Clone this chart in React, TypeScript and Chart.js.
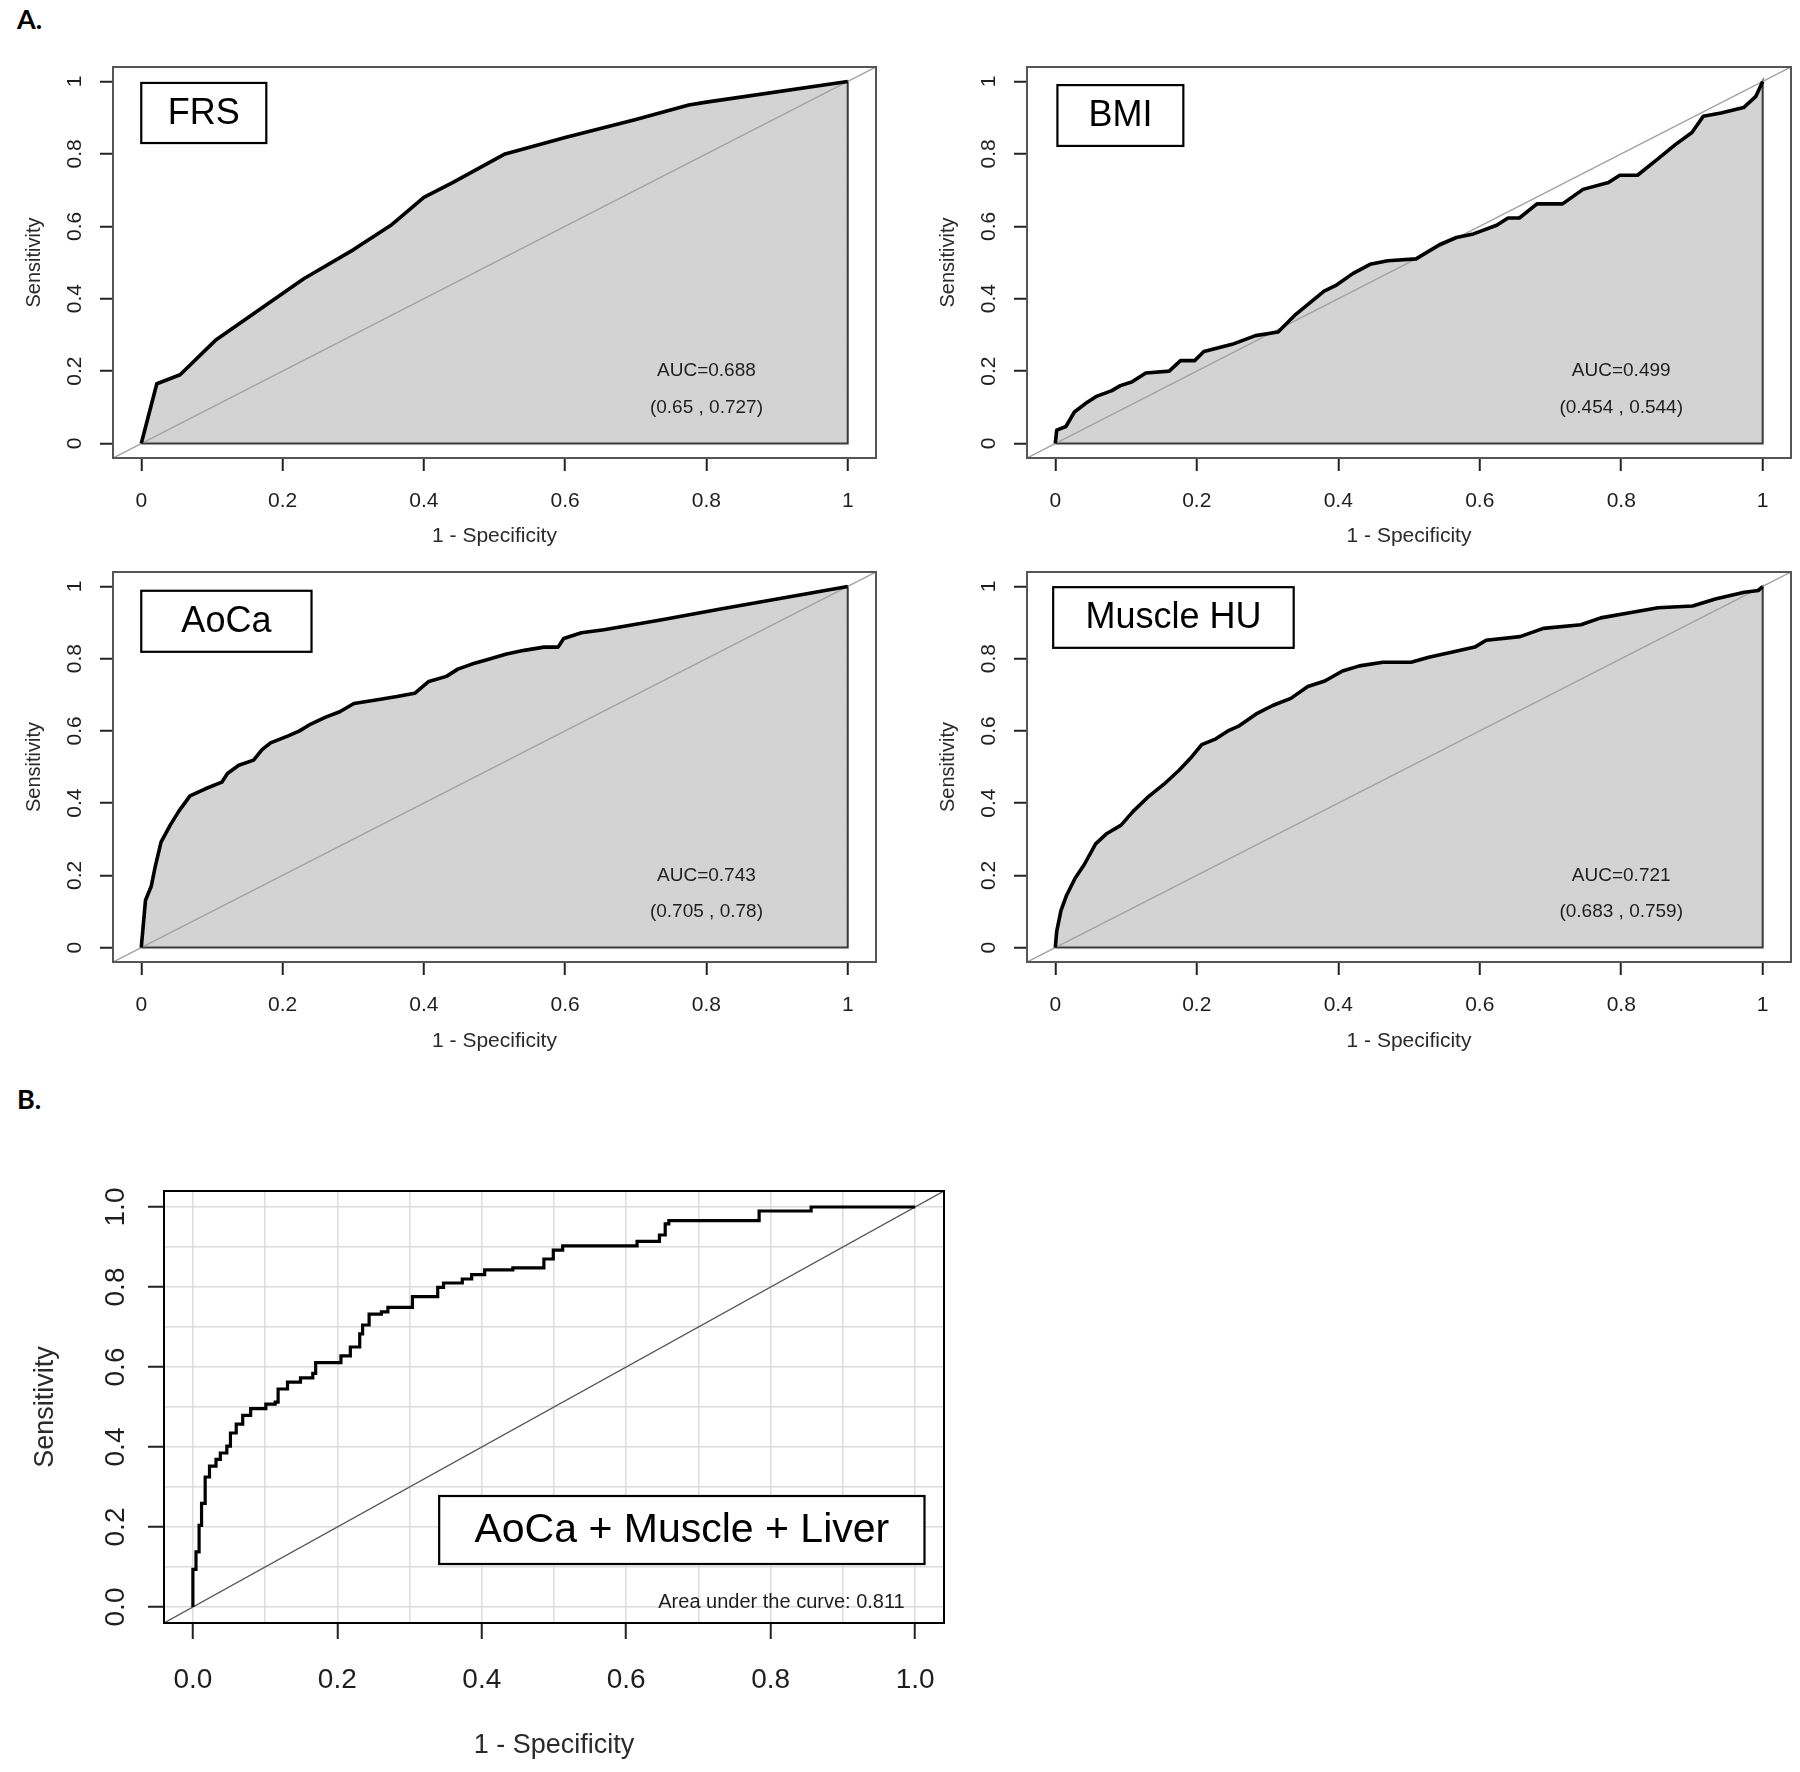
import React, { useEffect, useRef } from 'react';
import { Chart, registerables } from 'chart.js';

Chart.register(...registerables);

const FONT = '"Liberation Sans", Arial, Helvetica, sans-serif';

// ---------- data ----------
const frsX = [0, 0.022, 0.055, 0.105, 0.23, 0.3, 0.355, 0.4, 0.44, 0.515, 0.6, 0.7, 0.775, 0.8, 1];
const frsY = [0, 0.165, 0.19, 0.285, 0.455, 0.535, 0.605, 0.68, 0.72, 0.8, 0.845, 0.895, 0.935, 0.943, 1];

const bmiX = [0, 0.002, 0.015, 0.027, 0.043, 0.059, 0.08, 0.092, 0.108, 0.128, 0.161, 0.177, 0.197, 0.21, 0.25, 0.283, 0.315, 0.34, 0.38, 0.396, 0.421, 0.445, 0.47, 0.51, 0.543, 0.567, 0.591, 0.624, 0.64, 0.656, 0.681, 0.717, 0.746, 0.782, 0.798, 0.823, 0.851, 0.876, 0.9, 0.916, 0.941, 0.973, 0.99, 1];
const bmiY = [0, 0.037, 0.047, 0.087, 0.111, 0.131, 0.146, 0.16, 0.17, 0.195, 0.2, 0.229, 0.229, 0.254, 0.274, 0.298, 0.308, 0.357, 0.421, 0.436, 0.47, 0.495, 0.505, 0.51, 0.549, 0.569, 0.579, 0.603, 0.623, 0.623, 0.662, 0.662, 0.702, 0.721, 0.741, 0.741, 0.785, 0.825, 0.859, 0.904, 0.913, 0.928, 0.958, 1];

const aocaX = [0, 0.006, 0.014, 0.02, 0.028, 0.041, 0.053, 0.069, 0.09, 0.114, 0.122, 0.138, 0.159, 0.171, 0.183, 0.208, 0.224, 0.24, 0.261, 0.281, 0.301, 0.33, 0.362, 0.387, 0.407, 0.432, 0.448, 0.468, 0.493, 0.517, 0.542, 0.57, 0.59, 0.598, 0.623, 0.655, 0.737, 0.818, 0.9, 1];
const aocaY = [0, 0.131, 0.169, 0.226, 0.292, 0.339, 0.377, 0.42, 0.439, 0.458, 0.482, 0.505, 0.519, 0.548, 0.567, 0.586, 0.6, 0.619, 0.638, 0.653, 0.676, 0.685, 0.695, 0.704, 0.737, 0.751, 0.771, 0.785, 0.799, 0.813, 0.823, 0.832, 0.832, 0.856, 0.872, 0.88, 0.908, 0.937, 0.965, 1];

const muscleX = [0, 0.002, 0.008, 0.016, 0.028, 0.041, 0.057, 0.073, 0.093, 0.11, 0.13, 0.154, 0.175, 0.191, 0.207, 0.227, 0.244, 0.26, 0.284, 0.308, 0.333, 0.357, 0.381, 0.406, 0.43, 0.463, 0.503, 0.528, 0.56, 0.593, 0.609, 0.657, 0.69, 0.743, 0.771, 0.812, 0.852, 0.901, 0.933, 0.974, 0.994, 1];
const muscleY = [0, 0.045, 0.102, 0.145, 0.192, 0.23, 0.287, 0.316, 0.339, 0.377, 0.415, 0.453, 0.491, 0.524, 0.562, 0.578, 0.6, 0.614, 0.647, 0.671, 0.69, 0.723, 0.738, 0.766, 0.78, 0.79, 0.79, 0.804, 0.818, 0.832, 0.851, 0.861, 0.884, 0.894, 0.913, 0.927, 0.941, 0.946, 0.965, 0.984, 0.989, 1];

const comboX = [0, 0, 0.0043, 0.0086, 0.012, 0.017, 0.023, 0.032, 0.038, 0.047, 0.052, 0.06, 0.069, 0.08, 0.097, 0.101, 0.114, 0.118, 0.131, 0.149, 0.166, 0.17, 0.196, 0.205, 0.218, 0.231, 0.235, 0.244, 0.261, 0.27, 0.3, 0.304, 0.33, 0.339, 0.347, 0.365, 0.373, 0.386, 0.404, 0.443, 0.477, 0.486, 0.499, 0.512, 0.607, 0.615, 0.641, 0.646, 0.654, 0.659, 0.78, 0.784, 0.853, 0.856, 1];
const comboY = [0, 0.094, 0.138, 0.204, 0.259, 0.325, 0.352, 0.369, 0.385, 0.402, 0.435, 0.457, 0.479, 0.496, 0.496, 0.507, 0.512, 0.545, 0.562, 0.573, 0.584, 0.611, 0.611, 0.628, 0.65, 0.683, 0.705, 0.732, 0.738, 0.749, 0.749, 0.776, 0.776, 0.799, 0.81, 0.81, 0.82, 0.831, 0.843, 0.848, 0.848, 0.87, 0.892, 0.903, 0.903, 0.914, 0.914, 0.93, 0.958, 0.966, 0.966, 0.99, 0.99, 1, 1];

const tickValuesA = [0, 0.2, 0.4, 0.6, 0.8, 1];
const tickLabelsA = ['0', '0.2', '0.4', '0.6', '0.8', '1'];
const tickValuesB = [0, 0.1, 0.2, 0.3, 0.4, 0.5, 0.6, 0.7, 0.8, 0.9, 1];
const tickLabelsB = ['0.0', '', '0.2', '', '0.4', '', '0.6', '', '0.8', '', '1.0'];

const aucLabels = ['AUC=0.688', 'AUC=0.499', 'AUC=0.743', 'AUC=0.721'];
const ciLabels = ['(0.65 , 0.727)', '(0.454 , 0.544)', '(0.705 , 0.78)', '(0.683 , 0.759)'];
const comboAuc = 'Area under the curve: 0.811';

// ---------- layout ----------
type Note = { text: string; x: number; y: number; size: number; align: CanvasTextAlign };
type Panel = {
  key: string;
  left: number; top: number; width: number; height: number;
  padTop: number; padRight: number; yAxisW: number; xAxisH: number;
  xs: number[]; ys: number[];
  shaded: boolean; grid: boolean; stepped: boolean | string;
  tickValues: number[]; tickLabels: string[];
  tickFont: number; tickLen: number; tickPadX: number; tickPadY: number;
  xTitleFont: number; yTitleFont: number; xTitlePad: number; yTitlePad: number;
  frameColor: string; diagColor: string; diagWidth: number; curveWidth: number;
  label: string; labelBox: [number, number, number, number]; labelFont: number;
  notes: Note[];
};

const commonA = {
  shaded: true, grid: false, stepped: false,
  tickValues: tickValuesA, tickLabels: tickLabelsA,
  tickFont: 21, tickLen: 13, tickPadX: 17.5, tickPadY: 10,
  xTitleFont: 21, yTitleFont: 20, xTitlePad: 11, yTitlePad: 22,
  frameColor: '#555', diagColor: '#a3a3a3', diagWidth: 1.5, curveWidth: 3.6,
  labelFont: 36, yAxisW: 113, padTop: 27, height: 520,
};

const aNotes = (i: number): Note[] => [
  { text: aucLabels[i], x: 0.8, y: 0.2, size: 19, align: 'center' },
  { text: ciLabels[i], x: 0.8, y: 0.1, size: 19, align: 'center' },
];

const panels: Panel[] = [
  { ...commonA, key: 'frs', left: 0, top: 40, width: 900, padRight: 24, xAxisH: 102, xs: frsX, ys: frsY,
    label: 'FRS', labelBox: [0, 0.996, 0.177, 0.83], notes: aNotes(0) },
  { ...commonA, key: 'bmi', left: 914, top: 40, width: 886, padRight: 9, xAxisH: 102, xs: bmiX, ys: bmiY,
    label: 'BMI', labelBox: [0.003, 0.99, 0.181, 0.822], notes: aNotes(1) },
  { ...commonA, key: 'aoca', left: 0, top: 545, width: 900, padRight: 24, xAxisH: 103, xs: aocaX, ys: aocaY,
    label: 'AoCa', labelBox: [0, 0.988, 0.241, 0.819], notes: aNotes(2) },
  { ...commonA, key: 'muscle', left: 914, top: 545, width: 886, padRight: 9, xAxisH: 103, xs: muscleX, ys: muscleY,
    label: 'Muscle HU', labelBox: [-0.003, 0.998, 0.337, 0.83], notes: aNotes(3) },
  {
    key: 'combo', left: 0, top: 1150, width: 1000, height: 622,
    padTop: 41, padRight: 56, yAxisW: 164, xAxisH: 149,
    xs: comboX, ys: comboY, shaded: false, grid: true, stepped: 'before',
    tickValues: tickValuesB, tickLabels: tickLabelsB,
    tickFont: 28, tickLen: 16, tickPadX: 24, tickPadY: 12,
    xTitleFont: 27, yTitleFont: 27, xTitlePad: 10, yTitlePad: 29,
    frameColor: '#000', diagColor: '#555', diagWidth: 1.3, curveWidth: 3.2,
    label: 'AoCa + Muscle + Liver', labelBox: [0.341, 0.2775, 1.013, 0.1075], labelFont: 41,
    notes: [{ text: comboAuc, x: 0.815, y: 0.0125, size: 20, align: 'center' }],
  },
];

function buildConfig(p: Panel): any {
  const pts = p.xs.map((x, i) => ({ x, y: p.ys[i] }));
  const datasets: any[] = [
    { label: 'roc', data: pts, borderColor: '#000', borderWidth: p.curveWidth, pointRadius: 0,
      fill: false, tension: 0, order: 0, stepped: p.stepped,
      borderJoinStyle: p.stepped ? 'miter' : 'round', borderCapStyle: 'butt' },
    { label: 'chance', data: [{ x: -0.04, y: -0.04 }, { x: 1.04, y: 1.04 }], borderColor: p.diagColor,
      borderWidth: p.diagWidth, pointRadius: 0, fill: false, order: 1 },
  ];
  if (p.shaded) {
    datasets.push({
      label: 'area', data: [...pts, { x: 1, y: 0 }, { x: 0, y: 0 }],
      borderColor: '#3a3a3a', borderWidth: 2, backgroundColor: '#d3d3d3',
      fill: 'shape', pointRadius: 0, tension: 0, order: 2,
    });
  }

  const tickSetter = (s: any) => { s.ticks = p.tickValues.map((v) => ({ value: v })); };
  const tickColor = (c: any) => (p.tickLabels[c.index] === '' ? 'rgba(0,0,0,0)' : '#222');

  const overlay = {
    id: 'overlay_' + p.key,
    afterDraw(chart: any) {
      const { ctx, chartArea: a, scales } = chart;
      const xs = scales.x; const ys = scales.y;
      ctx.save();
      ctx.strokeStyle = p.frameColor;
      ctx.lineWidth = 2;
      ctx.strokeRect(a.left, a.top, a.right - a.left, a.bottom - a.top);

      const bx0 = xs.getPixelForValue(p.labelBox[0]);
      const by0 = ys.getPixelForValue(p.labelBox[1]);
      const bx1 = xs.getPixelForValue(p.labelBox[2]);
      const by1 = ys.getPixelForValue(p.labelBox[3]);
      ctx.fillStyle = '#fff';
      ctx.fillRect(bx0, by0, bx1 - bx0, by1 - by0);
      ctx.strokeStyle = '#000';
      ctx.lineWidth = 2.2;
      ctx.strokeRect(bx0, by0, bx1 - bx0, by1 - by0);
      ctx.fillStyle = '#000';
      ctx.font = `${p.labelFont}px ${FONT}`;
      ctx.textAlign = 'center';
      ctx.textBaseline = 'middle';
      ctx.fillText(p.label, (bx0 + bx1) / 2, (by0 + by1) / 2 + 1);

      for (const n of p.notes) {
        ctx.font = `${n.size}px ${FONT}`;
        ctx.fillStyle = '#1e1e1e';
        ctx.textAlign = n.align;
        ctx.fillText(n.text, xs.getPixelForValue(n.x), ys.getPixelForValue(n.y));
      }
      ctx.restore();
    },
  };

  const gridCommon = {
    drawOnChartArea: p.grid,
    color: '#dcdcdc',
    lineWidth: 1.5,
    drawTicks: true,
    tickLength: p.tickLen,
    tickColor,
    tickWidth: 2,
  };

  return {
    type: 'line',
    data: { datasets },
    plugins: [overlay],
    options: {
      responsive: false,
      animation: false,
      events: [],
      layout: { padding: { left: 0, top: p.padTop, right: p.padRight, bottom: 0 } },
      plugins: { legend: { display: false }, tooltip: { enabled: false } },
      scales: {
        x: {
          type: 'linear', min: -0.04, max: 1.04,
          afterBuildTicks: tickSetter,
          afterFit: (s: any) => { s.height = p.xAxisH; },
          ticks: {
            autoSkip: false, maxRotation: 0, minRotation: 0,
            padding: p.tickPadX, color: '#1e1e1e',
            font: { family: FONT, size: p.tickFont },
            callback: (_v: any, i: number) => p.tickLabels[i],
          },
          grid: gridCommon,
          border: { display: true, color: p.frameColor, width: 2 },
          title: {
            display: true, text: '1 - Specificity', color: '#2a2a2a',
            font: { family: FONT, size: p.xTitleFont },
            padding: { top: 0, bottom: p.xTitlePad },
          },
        },
        y: {
          type: 'linear', min: -0.04, max: 1.04,
          afterBuildTicks: tickSetter,
          afterFit: (s: any) => { s.width = p.yAxisW; },
          ticks: {
            autoSkip: false, minRotation: 90, maxRotation: 90, crossAlign: 'center',
            padding: p.tickPadY, color: '#1e1e1e',
            font: { family: FONT, size: p.tickFont },
            callback: (_v: any, i: number) => p.tickLabels[i],
          },
          grid: gridCommon,
          border: { display: true, color: p.frameColor, width: 2 },
          title: {
            display: true, text: 'Sensitivity', color: '#2a2a2a',
            font: { family: FONT, size: p.yTitleFont },
            padding: { top: p.yTitlePad, bottom: 0 },
          },
        },
      },
    },
  };
}

function RocPanel({ panel }: { panel: Panel }) {
  const ref = useRef<HTMLCanvasElement>(null);
  useEffect(() => {
    if (!ref.current) return;
    const chart = new Chart(ref.current, buildConfig(panel));
    return () => chart.destroy();
  }, [panel]);
  return (
    <canvas
      ref={ref}
      width={panel.width}
      height={panel.height}
      style={{ position: 'absolute', left: panel.left, top: panel.top, width: panel.width, height: panel.height }}
    />
  );
}

const sectionLabel: React.CSSProperties = {
  position: 'absolute', left: 17, font: 'bold 27px Lato, "Open Sans", sans-serif',
  lineHeight: '30px', color: '#000',
};

export default function App() {
  return (
    <div style={{ position: 'absolute', left: 0, top: 0, width: 1800, height: 1772, background: '#fff', overflow: 'hidden' }}>
      <div style={{ ...sectionLabel, top: 4 }}>A.</div>
      <div style={{ ...sectionLabel, top: 1084 }}>B.</div>
      {panels.map((p) => (
        <RocPanel key={p.key} panel={p} />
      ))}
    </div>
  );
}
